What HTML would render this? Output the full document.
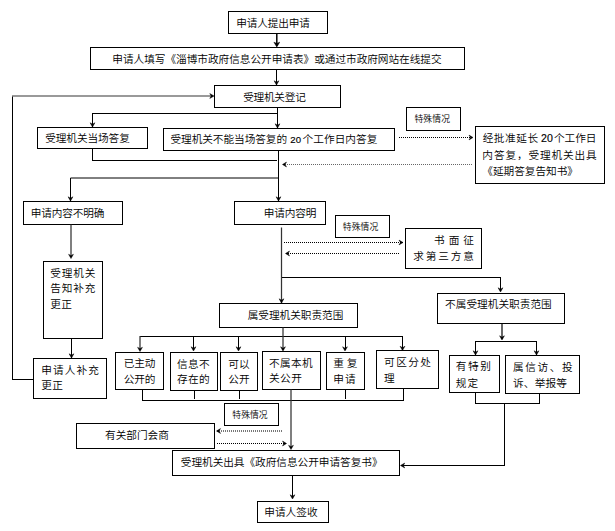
<!DOCTYPE html>
<html lang="zh-CN"><head><meta charset="utf-8"><title>政府信息公开申请流程图</title>
<style>
html,body{margin:0;padding:0;background:#fff}
body{width:615px;height:531px;overflow:hidden;position:relative}
svg{position:absolute;left:0;top:0;display:block}
text{font-family:"Liberation Sans", "Noto Sans CJK SC", sans-serif;fill:#000;text-anchor:middle;font-weight:350}
</style></head><body>
<svg width="615" height="531" viewBox="0 0 615 531">
<rect width="615" height="531" fill="#fff"/>
<g fill="#fff" stroke="#000" stroke-width="1" shape-rendering="crispEdges">
<rect x="228.5" y="11.5" width="99" height="22"/>
<rect x="90.5" y="47.5" width="374" height="22"/>
<rect x="214.5" y="85.5" width="126" height="22"/>
<rect x="37.5" y="127.5" width="110" height="21"/>
<rect x="163.5" y="128.5" width="231" height="22"/>
<rect x="406.5" y="107.5" width="54" height="23"/>
<rect x="475.5" y="126.5" width="129" height="57"/>
<rect x="23.5" y="201.5" width="99" height="23"/>
<rect x="234.5" y="201.5" width="91" height="23"/>
<rect x="335.5" y="215.5" width="54" height="22"/>
<rect x="405.5" y="228.5" width="76" height="40"/>
<rect x="43.5" y="261.5" width="59" height="77"/>
<rect x="219.5" y="303.5" width="138" height="24"/>
<rect x="437.5" y="293.5" width="127" height="30"/>
<rect x="33.5" y="358.5" width="73" height="40"/>
<rect x="115.5" y="352.5" width="48" height="37"/>
<rect x="170.5" y="352.5" width="47" height="38"/>
<rect x="220.5" y="352.5" width="37" height="38"/>
<rect x="262.5" y="351.5" width="58" height="38"/>
<rect x="326.5" y="352.5" width="38" height="37"/>
<rect x="376.5" y="350.5" width="62" height="38"/>
<rect x="449.5" y="355.5" width="50" height="37"/>
<rect x="505.5" y="355.5" width="74" height="38"/>
<rect x="224.5" y="403.5" width="54" height="22"/>
<rect x="76.5" y="423.5" width="138" height="25"/>
<rect x="172.5" y="450.5" width="227" height="25"/>
<rect x="257.5" y="501.5" width="71" height="21"/>
</g>
<path d="M276.8 33.5 L276.8 46" fill="none" stroke="#000" stroke-width="1.5"/>
<polygon points="276.8,47 273.90000000000003,42.2 276.8,43.4 279.7,42.2" fill="#000" stroke="#000" stroke-width="0.5" stroke-linejoin="miter"/>
<path d="M276.5 69.5 L276.5 85" fill="none" stroke="#000" stroke-width="1" shape-rendering="crispEdges"/>
<polygon points="276.5,85 274.1,80.8 276.5,82.2 278.9,80.8" fill="#000" stroke="#000" stroke-width="0.5" stroke-linejoin="miter"/>
<path d="M277.5 107.5 L277.5 128" fill="none" stroke="#000" stroke-width="1" shape-rendering="crispEdges"/>
<polygon points="277.5,128 275.1,123.8 277.5,125.2 279.9,123.8" fill="#000" stroke="#000" stroke-width="0.5" stroke-linejoin="miter"/>
<path d="M277.5 113.5 L92.5 113.5 L92.5 127" fill="none" stroke="#000" stroke-width="1" shape-rendering="crispEdges"/>
<polygon points="92.5,127 90.1,122.8 92.5,124.2 94.9,122.8" fill="#000" stroke="#000" stroke-width="0.5" stroke-linejoin="miter"/>
<path d="M92.5 148 L92.5 160.5 L277 160.5" fill="none" stroke="#000" stroke-width="1" shape-rendering="crispEdges"/>
<path d="M278.5 150.5 L278.5 201" fill="none" stroke="#000" stroke-width="1" shape-rendering="crispEdges"/>
<polygon points="278.5,201 276.1,196.8 278.5,198.2 280.9,196.8" fill="#000" stroke="#000" stroke-width="0.5" stroke-linejoin="miter"/>
<path d="M278.5 178 L70.5 178 L70.5 201" fill="none" stroke="#000" stroke-width="1"/>
<polygon points="70.5,201 68.1,196.8 70.5,198.2 72.9,196.8" fill="#000" stroke="#000" stroke-width="0.5" stroke-linejoin="miter"/>
<path d="M33 379.5 L12.5 379.5 L12.5 95.5" fill="none" stroke="#000" stroke-width="1" shape-rendering="crispEdges"/>
<path d="M12 96 L212 96" fill="none" stroke="#777" stroke-width="1.6"/>
<polygon points="214,96 209.8,93.6 211.2,96 209.8,98.4" fill="#000" stroke="#000" stroke-width="0.5" stroke-linejoin="miter"/>
<path d="M71 224.5 L71 257" fill="none" stroke="#333" stroke-width="1.25"/>
<polygon points="71,258.5 68.6,254.3 71,255.7 73.4,254.3" fill="#000" stroke="#000" stroke-width="0.5" stroke-linejoin="miter"/>
<path d="M71.5 338.5 L71.5 358" fill="none" stroke="#000" stroke-width="1" shape-rendering="crispEdges"/>
<polygon points="71.5,358 69.1,353.8 71.5,355.2 73.9,353.8" fill="#000" stroke="#000" stroke-width="0.5" stroke-linejoin="miter"/>
<path d="M281.5 227.5 L281.5 303" fill="none" stroke="#333" stroke-width="1.25"/>
<polygon points="281.5,303 279.1,298.8 281.5,300.2 283.9,298.8" fill="#000" stroke="#000" stroke-width="0.5" stroke-linejoin="miter"/>
<path d="M281.5 277.5 L500.5 277.5 L500.5 291" fill="none" stroke="#000" stroke-width="1" shape-rendering="crispEdges"/>
<polygon points="500.5,292 498.1,287.8 500.5,289.2 502.9,287.8" fill="#000" stroke="#000" stroke-width="0.5" stroke-linejoin="miter"/>
<path d="M502 323.5 L502 339" fill="none" stroke="#000" stroke-width="1.2"/>
<polygon points="502,340 499.6,335.8 502,337.2 504.4,335.8" fill="#000" stroke="#000" stroke-width="0.5" stroke-linejoin="miter"/>
<path d="M475.5 355 L475.5 341.5 L536.5 341.5 L536.5 355" fill="none" stroke="#000" stroke-width="1" shape-rendering="crispEdges"/>
<polygon points="475.5,355 473.1,350.8 475.5,352.2 477.9,350.8" fill="#000" stroke="#000" stroke-width="0.5" stroke-linejoin="miter"/>
<polygon points="536.5,355 534.1,350.8 536.5,352.2 538.9,350.8" fill="#000" stroke="#000" stroke-width="0.5" stroke-linejoin="miter"/>
<path d="M140 336.5 L402.5 336.5 L402.5 350" fill="none" stroke="#000" stroke-width="1" shape-rendering="crispEdges"/>
<path d="M140 336 L140 350" fill="none" stroke="#333" stroke-width="1.25"/>
<polygon points="140,351.5 137.6,347.3 140,348.7 142.4,347.3" fill="#000" stroke="#000" stroke-width="0.5" stroke-linejoin="miter"/>
<polygon points="402.5,350.5 400.1,346.3 402.5,347.7 404.9,346.3" fill="#000" stroke="#000" stroke-width="0.5" stroke-linejoin="miter"/>
<path d="M193.5 336.5 L193.5 350" fill="none" stroke="#000" stroke-width="1" shape-rendering="crispEdges"/>
<polygon points="193.5,351 191.1,346.8 193.5,348.2 195.9,346.8" fill="#000" stroke="#000" stroke-width="0.5" stroke-linejoin="miter"/>
<path d="M238.5 336.5 L238.5 350" fill="none" stroke="#000" stroke-width="1" shape-rendering="crispEdges"/>
<polygon points="238.5,351 236.1,346.8 238.5,348.2 240.9,346.8" fill="#000" stroke="#000" stroke-width="0.5" stroke-linejoin="miter"/>
<path d="M345 336.5 L345 350" fill="none" stroke="#000" stroke-width="1" shape-rendering="crispEdges"/>
<polygon points="345,351 342.6,346.8 345,348.2 347.4,346.8" fill="#000" stroke="#000" stroke-width="0.5" stroke-linejoin="miter"/>
<path d="M283 327.5 L283 350" fill="none" stroke="#333" stroke-width="1.25"/>
<polygon points="283,351 280.6,346.8 283,348.2 285.4,346.8" fill="#000" stroke="#000" stroke-width="0.5" stroke-linejoin="miter"/>
<path d="M142.5 389.5 L142.5 400.5 L403.5 400.5 L403.5 388.5" fill="none" stroke="#000" stroke-width="1" shape-rendering="crispEdges"/>
<path d="M194.5 389.5 L194.5 399" fill="none" stroke="#000" stroke-width="1" shape-rendering="crispEdges"/>
<path d="M239.5 389.5 L239.5 399" fill="none" stroke="#000" stroke-width="1" shape-rendering="crispEdges"/>
<path d="M345.5 389.5 L345.5 399" fill="none" stroke="#000" stroke-width="1" shape-rendering="crispEdges"/>
<path d="M291 389.5 L291 448" fill="none" stroke="#333" stroke-width="1.25"/>
<polygon points="291,449.5 288.6,445.3 291,446.7 293.4,445.3" fill="#000" stroke="#000" stroke-width="0.5" stroke-linejoin="miter"/>
<path d="M475.5 392.5 L475.5 403.5 L539.5 403.5 L539.5 394" fill="none" stroke="#000" stroke-width="1" shape-rendering="crispEdges"/>
<path d="M504.5 403.5 L504.5 465.5 L401 465.5" fill="none" stroke="#000" stroke-width="1" shape-rendering="crispEdges"/>
<polygon points="400.5,465.5 404.7,463.1 403.3,465.5 404.7,467.9" fill="#000" stroke="#000" stroke-width="0.5" stroke-linejoin="miter"/>
<path d="M292.5 475.5 L292.5 498" fill="none" stroke="#000" stroke-width="1" shape-rendering="crispEdges"/>
<polygon points="292.5,499 290.1,494.8 292.5,496.2 294.9,494.8" fill="#000" stroke="#000" stroke-width="0.5" stroke-linejoin="miter"/>
<path d="M399 137.5 L473 137.5" fill="none" stroke="#000" stroke-width="1" stroke-dasharray="1 1" shape-rendering="crispEdges"/>
<polygon points="473,137.5 469,135.1 470.5,137.5 469,139.9" fill="#000" stroke="#000" stroke-width="0.5" stroke-linejoin="miter"/>
<path d="M282.5 164.5 L471.5 164.5" fill="none" stroke="#666" stroke-width="1.6" stroke-dasharray="1 1" shape-rendering="crispEdges"/>
<polygon points="282.5,164.5 286.5,162.1 285.0,164.5 286.5,166.9" fill="#000" stroke="#000" stroke-width="0.5" stroke-linejoin="miter"/>
<path d="M283.5 242.5 L403 242.5" fill="none" stroke="#000" stroke-width="1" stroke-dasharray="1 1" shape-rendering="crispEdges"/>
<polygon points="403,242.5 399,240.1 400.5,242.5 399,244.9" fill="#000" stroke="#000" stroke-width="0.5" stroke-linejoin="miter"/>
<path d="M285.5 253.5 L400 253.5" fill="none" stroke="#000" stroke-width="1" stroke-dasharray="1 1" shape-rendering="crispEdges"/>
<polygon points="285.5,253.5 289.5,251.1 288.0,253.5 289.5,255.9" fill="#000" stroke="#000" stroke-width="0.5" stroke-linejoin="miter"/>
<path d="M216.5 431 L283 431" fill="none" stroke="#777" stroke-width="2" stroke-dasharray="1 1" shape-rendering="crispEdges"/>
<polygon points="216.5,431 220.5,428.6 219.0,431 220.5,433.4" fill="#000" stroke="#000" stroke-width="0.5" stroke-linejoin="miter"/>
<path d="M217 443.5 L286.5 443.5" fill="none" stroke="#000" stroke-width="1" stroke-dasharray="1 1" shape-rendering="crispEdges"/>
<polygon points="286.5,443.5 282.5,441.1 284.0,443.5 282.5,445.9" fill="#000" stroke="#000" stroke-width="0.5" stroke-linejoin="miter"/>
<g>
<text x="241.61 252.11 262.6 273.1 283.6 294.09 304.59" y="27.16" font-size="10.67">申请人提出申请</text>
<text x="248.51 258.91 269.3 279.7 290.09 300.49" y="101.16" font-size="10.67">受理机关登记</text>
<text x="50.51 61.08 71.65 82.22 92.78 103.35 113.92 124.49" y="142.16" font-size="10.67">受理机关当场答复</text>
<text x="418.84 427.75 436.65 445.56" y="122.43" font-size="8.8">特殊情况</text>
<text x="487.71 499.23 510.75 522.27 533.79 545.31 556.83 568.35 579.87 591.39" y="158.56" font-size="10.67">内答复，受理机关出具</text>
<text x="36.01 46.51 57 67.5 78 88.49 98.99" y="216.66" font-size="10.67">申请内容不明确</text>
<text x="269.01 279.51 290 300.49 310.99" y="216.66" font-size="10.67">申请内容明</text>
<text x="347.14 356.05 364.95 373.86" y="229.93" font-size="8.8">特殊情况</text>
<text x="439.41 454.05 468.69" y="244.46" font-size="10.67">书面征</text>
<text x="418.61 431.13 443.65 456.17 468.69" y="259.76" font-size="10.67">求第三方意</text>
<text x="55.71 67.14 78.56 89.99" y="276.86" font-size="10.67">受理机关</text>
<text x="55.71 67.14 78.56 89.99" y="292.16" font-size="10.67">告知补充</text>
<text x="55.71 66.49" y="308.16" font-size="10.67">更正</text>
<text x="253.01 263.64 274.26 284.88 295.5 306.12 316.74 327.36 337.99" y="319.16" font-size="10.67">属受理机关职责范围</text>
<text x="450.41 461.08 471.74 482.4 493.07 503.73 514.4 525.06 535.72 546.39" y="307.76" font-size="10.67">不属受理机关职责范围</text>
<text x="46.71 58.41 70.1 81.79 93.49" y="373.86" font-size="10.67">申请人补充</text>
<text x="46.71 57.49" y="389.16" font-size="10.67">更正</text>
<text x="129.01 139.5 149.99" y="366.96" font-size="10.67">已主动</text>
<text x="129.01 139.5 149.99" y="383.16" font-size="10.67">公开的</text>
<text x="182.41 193.4 204.39" y="367.56" font-size="10.67">信息不</text>
<text x="182.41 193.4 204.39" y="383.16" font-size="10.67">存在的</text>
<text x="233.61 244.39" y="368.16" font-size="10.67">可以</text>
<text x="233.61 244.39" y="383.16" font-size="10.67">公开</text>
<text x="274.41 285.4 296.4 307.39" y="367.16" font-size="10.67">不属本机</text>
<text x="274.41 285.45 296.49" y="382.16" font-size="10.67">关公开</text>
<text x="338.61 351.99" y="367.16" font-size="10.67">重复</text>
<text x="338.61 350.39" y="382.76" font-size="10.67">申请</text>
<text x="389.41 401.47 413.53 425.59" y="366.16" font-size="10.67">可区分处</text>
<text x="389.41" y="381.76" font-size="10.67">理</text>
<text x="461.21 473.45 485.69" y="370.36" font-size="10.67">有特别</text>
<text x="461.21 472.79" y="386.56" font-size="10.67">规定</text>
<text x="518.41 530.63 542.85 555.07 567.29" y="371.16" font-size="10.67">属信访、投</text>
<text x="518.41 529.21 540 550.79 561.59" y="386.86" font-size="10.67">诉、举报等</text>
<text x="236.74 245.58 254.42 263.26" y="418.43" font-size="8.8">特殊情况</text>
<text x="110.41 121.05 131.68 142.32 152.95 163.59" y="438.96" font-size="10.67">有关部门会商</text>
<text x="269.51 280.23 290.95 301.67 312.39" y="515.96" font-size="10.67">申请人签收</text>
<text x="117.71 128.33 138.95 149.57 160.19 170.81 181.43 192.05 202.67 213.29 223.91 234.53 245.15 255.77 266.39 277.01 287.63 298.25 308.87 319.49 330.11 340.73 351.35 361.97 372.59 383.21 393.83 404.45 415.07 425.69 436.31" y="63.16" font-size="10.67">申请人填写《淄博市政府信息公开申请表》或通过市政府网站在线提交</text>
<text x="175.8 186.4 197 207.6 218.2 228.8 239.4 250 260.6 271.2 281.8 288.5 292.9 298.5 307.94 318.62 329.3 339.98 350.66 361.34 372.02" y="142.56" font-size="10.67">受理机关不能当场答复的 <tspan font-size="9.6" font-weight="400" stroke="#000" stroke-width="0.15" dy="0.4">20</tspan><tspan dy="-0.4">个工作日内答复</tspan></text>
<text x="488 499.2 510.4 521.6 532.8 540 543.9 549.9 559.3 569.9 580.5 591.1" y="142.46" font-size="10.67">经批准延长 <tspan font-size="10.6" font-weight="400" stroke="#000" stroke-width="0.15">20</tspan>个工作日</text>
<text x="487.71 498.33 508.95 519.57 530.19 540.81 551.43 562.05 572.67" y="174.66" font-size="10.67">《延期答复告知书》</text>
<text x="186.11 196.73 207.35 217.97 228.59 239.21 249.83 260.45 271.07 281.69 292.31 302.93 313.55 324.17 334.79 345.41 356.03 366.65 377.27" y="466.16" font-size="10.67">受理机关出具《政府信息公开申请答复书》</text>
</g>
</svg>
</body></html>
